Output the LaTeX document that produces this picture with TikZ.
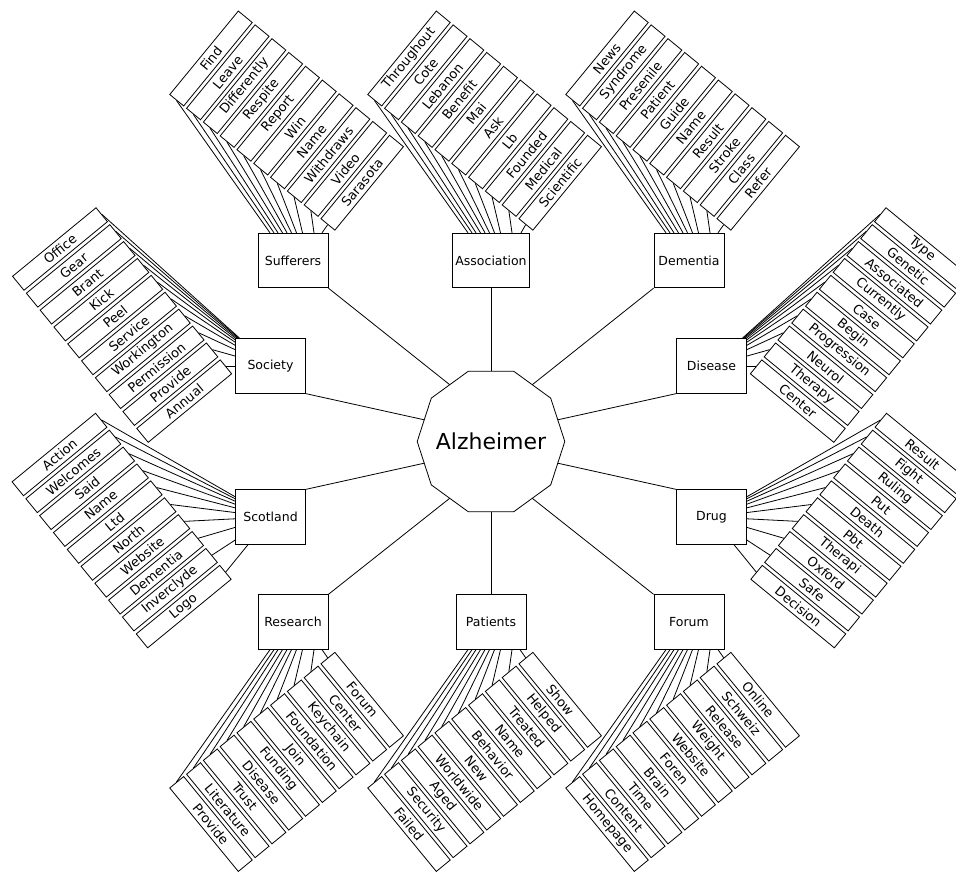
\documentclass[tikz,border=0pt]{standalone}
\usepackage{fontspec}
\setmainfont{DejaVu Sans}
\usetikzlibrary{calc,shapes.geometric}
\begin{document}
\begin{tikzpicture}[x=1pt,y=-1pt,line width=0.8pt,
  box/.style={draw, minimum width=70pt, minimum height=54.5pt, inner xsep=3pt, font=\fontsize{12.5}{15}\selectfont},
  leaf/.style={draw, minimum width=108pt, minimum height=18pt, inner sep=0pt, font=\fontsize{13}{15}\selectfont},
  hub/.style={draw, regular polygon, regular polygon sides=10, minimum size=147.6pt, inner sep=0pt, font=\fontsize{22}{26}\selectfont}
]
\useasboundingbox (0,0) rectangle (956,872);

% centre
\node[hub] (alz) at (491,441.5) {\makebox[0pt]{Alzheimer}};

% boxes
\node[box] (suf) at (293,260.5) {Sufferers};
\node[box] (asc) at (491,260.5) {Association};
\node[box] (dem) at (689,260.5) {Dementia};
\node[box] (soc) at (270.5,366) {Society};
\node[box] (dis) at (711.5,366) {Disease};
\node[box] (sco) at (270.5,517) {Scotland};
\node[box] (drg) at (711.5,517) {Drug};
\node[box] (res) at (293,622) {Research};
\node[box] (pat) at (491,622) {Patients};
\node[box] (frm) at (689,622) {Forum};

% side midpoints of the decagon
\coordinate (pSuf) at ($(alz.center)+(-41.3,-56.8)$);
\coordinate (pAsc) at ($(alz.center)+(0,-70.2)$);
\coordinate (pDem) at ($(alz.center)+(41.3,-56.8)$);
\coordinate (pSoc) at ($(alz.center)+(-66.8,-21.7)$);
\coordinate (pDis) at ($(alz.center)+(66.8,-21.7)$);
\coordinate (pSco) at ($(alz.center)+(-66.8,21.7)$);
\coordinate (pDrg) at ($(alz.center)+(66.8,21.7)$);
\coordinate (pRes) at ($(alz.center)+(-41.3,56.8)$);
\coordinate (pPat) at ($(alz.center)+(0,70.2)$);
\coordinate (pFrm) at ($(alz.center)+(41.3,56.8)$);

\draw (suf.south east) -- (pSuf);
\draw (asc.south) -- (pAsc);
\draw (dem.south west) -- (pDem);
\draw (soc.south east) -- (pSoc);
\draw (dis.south west) -- (pDis);
\draw (sco.north east) -- (pSco);
\draw (drg.north west) -- (pDrg);
\draw (res.north east) -- (pRes);
\draw (pat.north) -- (pPat);
\draw (frm.north west) -- (pFrm);

% top groups
\foreach \w/\o [count=\i from 0] in {Find/-23,Leave/-19,Differently/-15,Respite/-10.5,Report/-6,Win/-1.5,Name/3.5,Withdraws/9.5,Video/21,Sarasota/29}{
  \node[leaf, rotate=50.6] (suf\i) at ($(suf)+(-82,-202)+\i*(16.8,13.8)$) {\w};
  \draw (suf\i.west) -- ($(suf.north)+(\o,0)$);
}
\foreach \w/\o [count=\i from 0] in {Throughout/-23,Cote/-19,Lebanon/-15,Benefit/-10.5,Mai/-6,Ask/-1.5,Lb/3.5,Founded/9.5,Medical/21,Scientific/30}{
  \node[leaf, rotate=50.6] (asc\i) at ($(asc)+(-82,-202)+\i*(16.8,13.8)$) {\w};
  \draw (asc\i.west) -- ($(asc.north)+(\o,0)$);
}
\foreach \w/\o [count=\i from 0] in {News/-23,Syndrome/-19,Presenile/-15,Patient/-10.5,Guide/-6,Name/-1.5,Result/3.5,Stroke/9.5,Class/21,Refer/29}{
  \node[leaf, rotate=50.6] (dem\i) at ($(dem)+(-82,-202)+\i*(16.8,13.8)$) {\w};
  \draw (dem\i.west) -- ($(dem.north)+(\o,0)$);
}

% bottom groups
\foreach \w/\o [count=\i from 0] in {Provide/-23,Literature/-19,Trust/-15,Disease/-10.5,Funding/-6,Join/-1.5,Foundation/3.5,Keychain/9.5,Center/21,Forum/29}{
  \node[leaf, rotate=-50.6] (res\i) at ($(res)+(-82,202)+\i*(16.8,-13.8)$) {\w};
  \draw (res\i.west) -- ($(res.south)+(\o,0)$);
}
\foreach \w/\o [count=\i from 0] in {Failed/-23,Security/-19,Aged/-15,Worldwide/-10.5,New/-6,Behavior/-1.5,Name/3.5,Treated/9.5,Helped/21,Show/29}{
  \node[leaf, rotate=-50.6] (pat\i) at ($(pat)+(-82,202)+\i*(16.8,-13.8)$) {\w};
  \draw (pat\i.west) -- ($(pat.south)+(\o,0)$);
}
\foreach \w/\o [count=\i from 0] in {Homepage/-23,Content/-19,Time/-15,Brain/-10.5,Foren/-6,Website/-1.5,Weight/3.5,Release/9.5,Schweiz/21,Online/29}{
  \node[leaf, rotate=-50.6] (frm\i) at ($(frm)+(-82,202)+\i*(16.8,-13.8)$) {\w};
  \draw (frm\i.west) -- ($(frm.south)+(\o,0)$);
}

% left groups
\foreach \w [count=\i from 0] in {Office,Gear,Brant,Kick,Peel,Service,Workington,Permission,Provide,Annual}{
  \node[leaf, rotate=39.4] (soc\i) at ($(soc)+(-210.5,-117)+\i*(13.8,16.9)$) {\w};
  \draw (soc\i.east) -- (soc);
}
\foreach \w [count=\i from 0] in {Action,Welcomes,Said,Name,Ltd,North,Website,Dementia,Inverclyde,Logo}{
  \node[leaf, rotate=39.4] (sco\i) at ($(sco)+(-211,-62.5)+\i*(13.8,16.9)$) {\w};
  \draw (sco\i.east) -- (sco);
}

% right groups
\foreach \w [count=\i from 0] in {Type,Genetic,Associated,Currently,Case,Begin,Progression,Neurol,Therapy,Center}{
  \node[leaf, rotate=-39.4] (dis\i) at ($(dis)+(210.5,-117)+\i*(-13.8,16.9)$) {\w};
  \draw (dis\i.west) -- (dis);
}
\foreach \w [count=\i from 0] in {Result,Fight,Ruling,Put,Death,Pbt,Therapi,Oxford,Safe,Decision}{
  \node[leaf, rotate=-39.4] (drg\i) at ($(drg)+(211,-62.5)+\i*(-13.8,16.9)$) {\w};
  \draw (drg\i.west) -- (drg);
}
\end{tikzpicture}
\end{document}
